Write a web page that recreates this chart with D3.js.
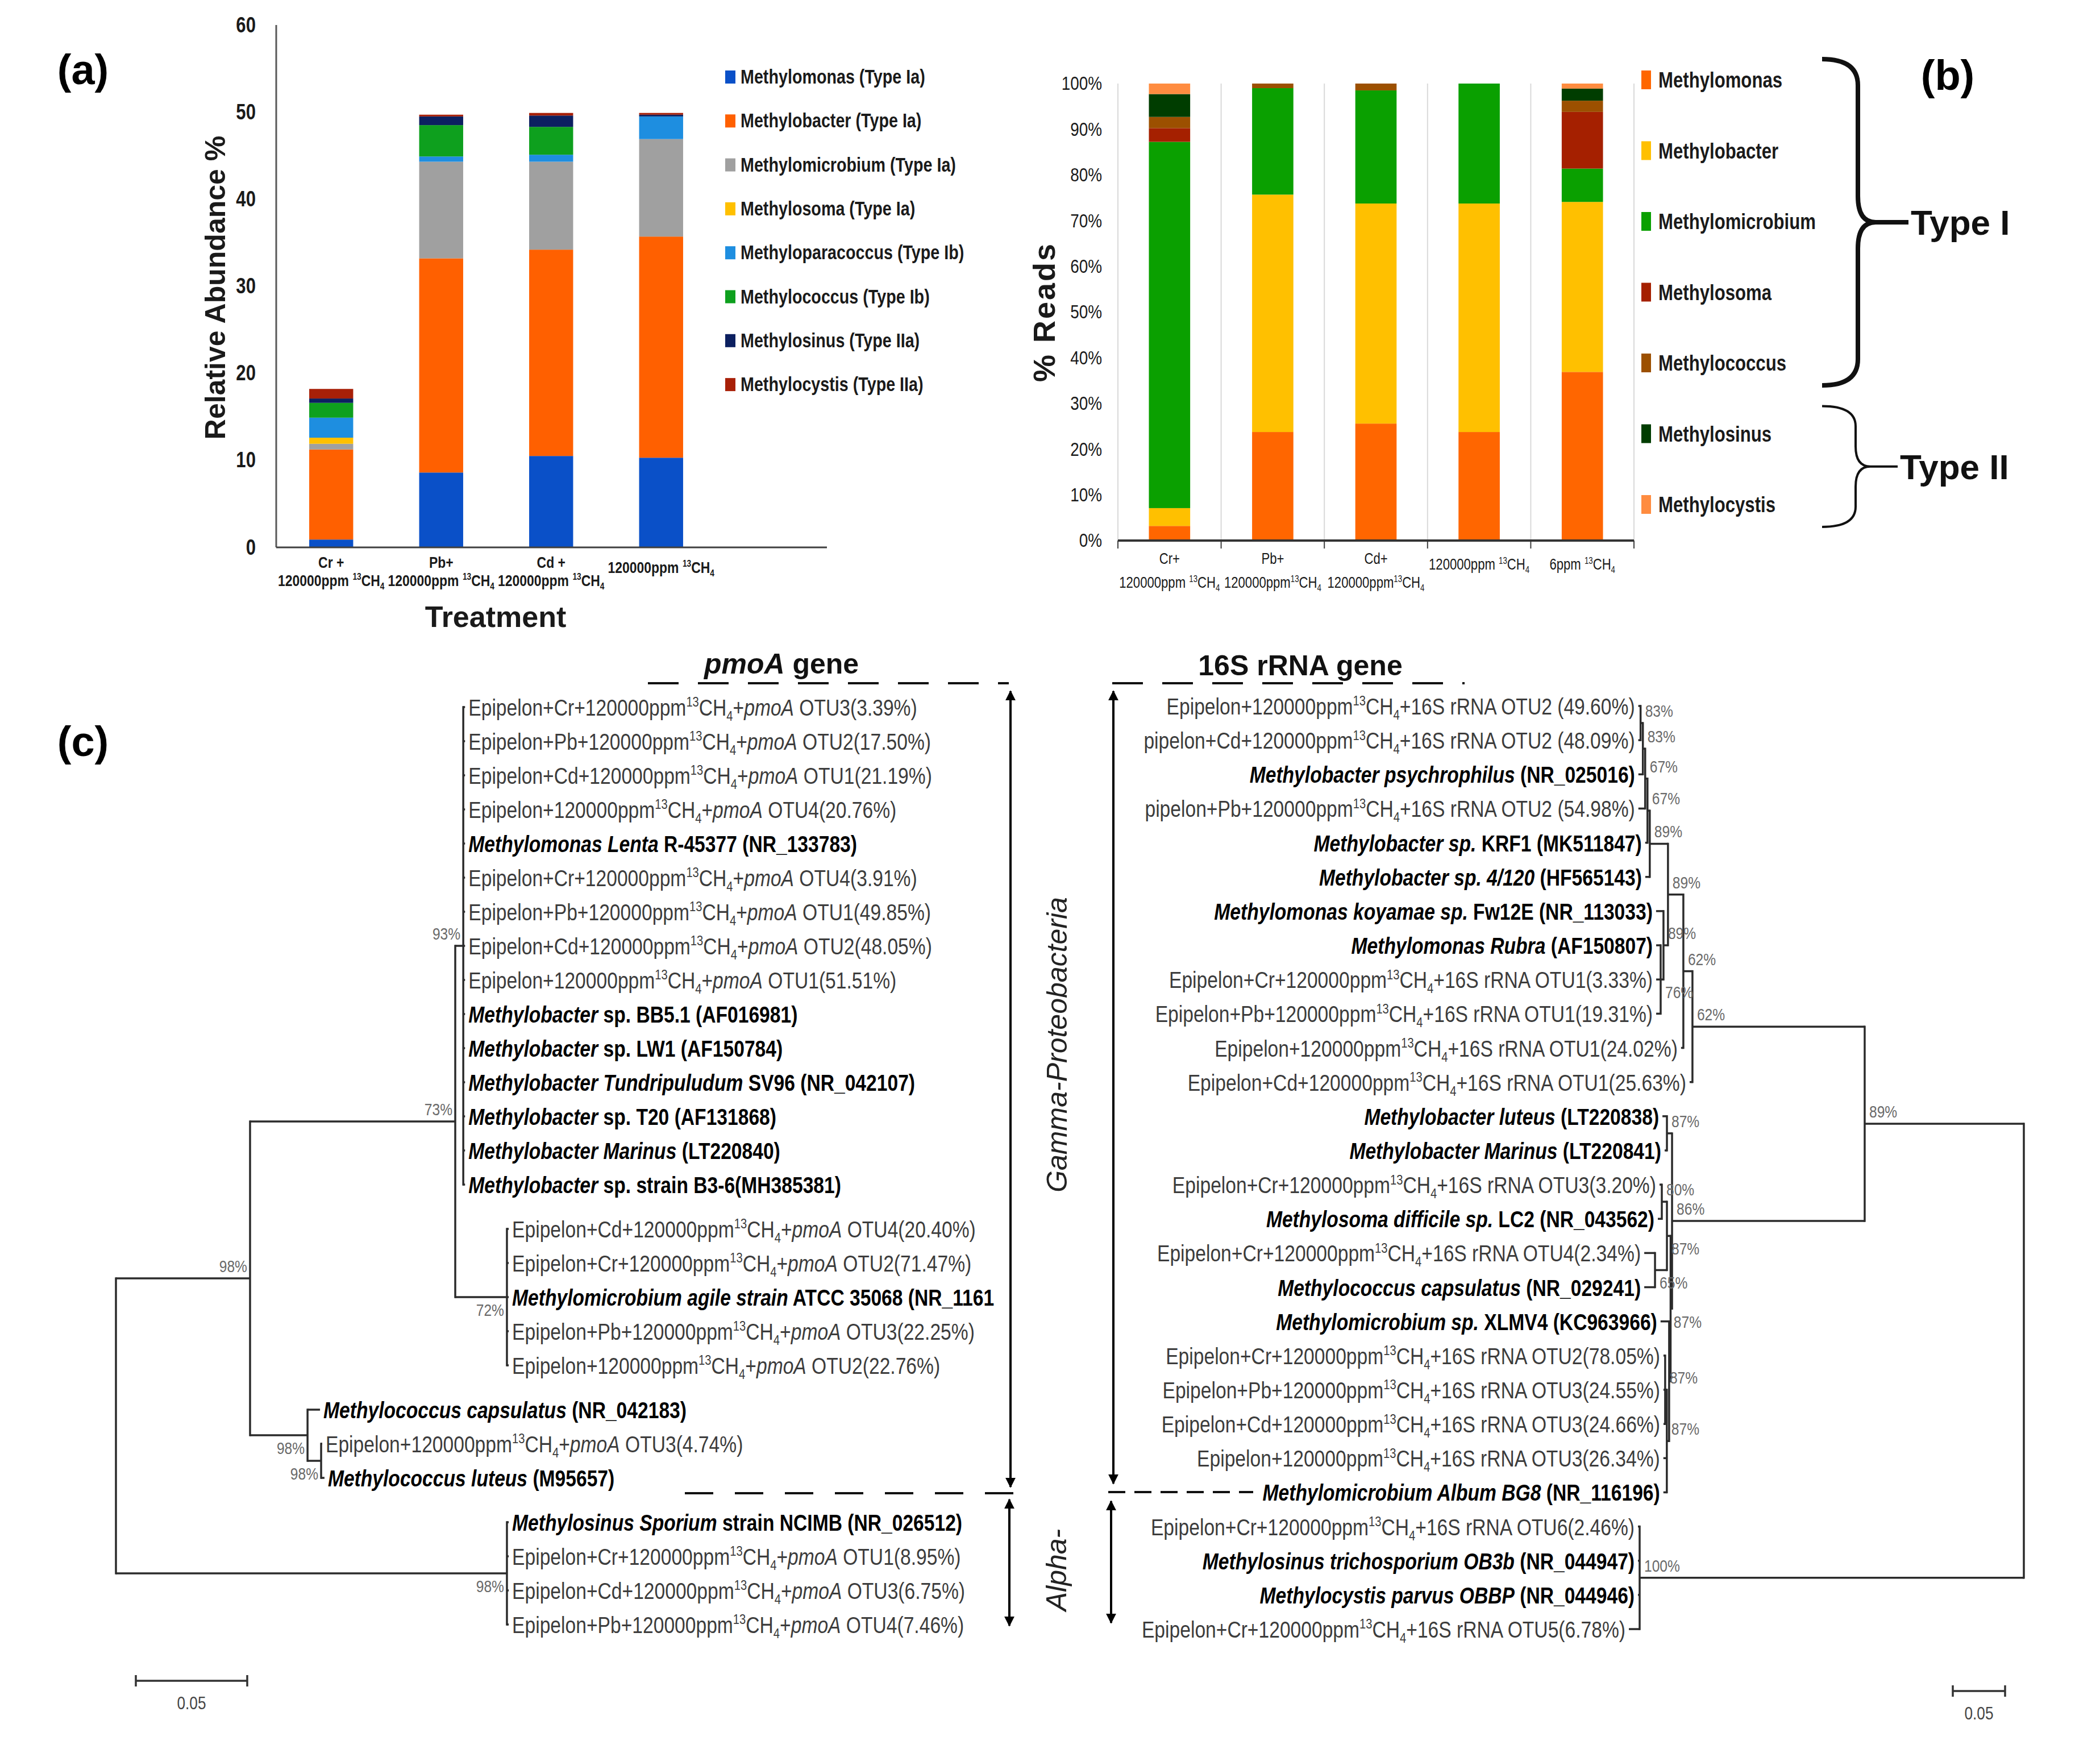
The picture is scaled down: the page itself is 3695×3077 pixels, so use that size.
<!DOCTYPE html>
<html>
<head>
<meta charset="utf-8">
<script src="https://cdn.jsdelivr.net/npm/d3@7"></script>
<style>
  body { margin: 0; background: #fff; }
  svg { display: block; }
</style>
</head>
<body>
<svg id="fig" width="3695" height="3077"></svg>
<script>
// ---------- data: panel (a) ----------
const generaA = ["Methylomonas (Type Ia)", "Methylobacter (Type Ia)", "Methylomicrobium (Type Ia)",
  "Methylosoma (Type Ia)", "Methyloparacoccus (Type Ib)", "Methylococcus (Type Ib)",
  "Methylosinus (Type IIa)", "Methylocystis (Type IIa)"];
const colorsA = ["#0a50c8", "#ff6000", "#a0a0a0", "#ffc000", "#1e8ee0", "#0ea01e", "#0c2060", "#a82008"];
const treatA = [["Cr +", "120000ppm ^13CH~4"], ["Pb+", "120000ppm ^13CH~4"], ["Cd +", "120000ppm ^13CH~4"], ["120000ppm ^13CH~4"]];
// one row per genus, one value per treatment (relative abundance %)
const abundA = [
  [0.9, 8.6, 10.5, 10.3],
  [10.35, 24.6, 23.7, 25.4],
  [0.65, 11.1, 10.1, 11.2],
  [0.7, 0, 0, 0],
  [2.3, 0.6, 0.8, 2.6],
  [1.7, 3.6, 3.2, 0],
  [0.5, 1.0, 1.3, 0.2],
  [1.1, 0.2, 0.3, 0.2]
];
const ticksA = [0, 10, 20, 30, 40, 50, 60];

// ---------- data: panel (b) ----------
const generaB = ["Methylomonas", "Methylobacter", "Methylomicrobium", "Methylosoma", "Methylococcus", "Methylosinus", "Methylocystis"];
const colorsB = ["#ff6600", "#ffc000", "#0aa000", "#a52000", "#9c5000", "#003d00", "#ff8c40"];
const treatB = [["Cr+", "120000ppm ^13CH~4"], ["Pb+", "120000ppm^13CH~4"], ["Cd+", "120000ppm^13CH~4"], ["120000ppm ^13CH~4"], ["6ppm ^13CH~4"]];
const readsB = [
  [3.2, 23.75, 25.6, 23.75, 36.9],
  [3.9, 51.95, 48.15, 50.0, 37.2],
  [80.15, 23.3, 24.75, 26.25, 7.3],
  [3.0, 0, 0, 0, 12.4],
  [2.45, 1.0, 1.5, 0, 2.45],
  [5.0, 0, 0, 0, 2.65],
  [2.3, 0, 0, 0, 1.1]
];
const ticksB = [0, 10, 20, 30, 40, 50, 60, 70, 80, 90, 100];
const typeGroups = [["Type I", 0, 4], ["Type II", 5, 6]];

// ---------- data: panel (c) pmoA tree ----------
// internal nodes: id, parent, branch length, bootstrap, label side
const pmoaNodes = [
  ["root", "", 0, ""],
  ["G98", "root", 0.0602, "98%"],
  ["N73", "G98", 0.0921, "73%"],
  ["N93", "N73", 0.0036, "93%"],
  ["N72", "N73", 0.0232, "72%", "below"],
  ["NMc", "G98", 0.0258, "98%", "below"],
  ["NMc2", "NMc", 0.0061, "98%", "below"],
  ["A98", "root", 0.1755, "98%", "below"]
];
// leaves in drawing order: parent, branch length, label (! = reference strain, *..* italic, ^ sup, ~ sub)
const pmoaLeaves = [
  ["N93", 0.0008, "Epipelon+Cr+120000ppm^13CH~4+*pmoA* OTU3(3.39%)"],
  ["N93", 0.0008, "Epipelon+Pb+120000ppm^13CH~4+*pmoA* OTU2(17.50%)"],
  ["N93", 0.0008, "Epipelon+Cd+120000ppm^13CH~4+*pmoA* OTU1(21.19%)"],
  ["N93", 0.0008, "Epipelon+120000ppm^13CH~4+*pmoA* OTU4(20.76%)"],
  ["N93", 0.0008, "!*Methylomonas Lenta* R-45377 (NR_133783)"],
  ["N93", 0.0008, "Epipelon+Cr+120000ppm^13CH~4+*pmoA* OTU4(3.91%)"],
  ["N93", 0.0008, "Epipelon+Pb+120000ppm^13CH~4+*pmoA* OTU1(49.85%)"],
  ["N93", 0.0008, "Epipelon+Cd+120000ppm^13CH~4+*pmoA* OTU2(48.05%)"],
  ["N93", 0.0008, "Epipelon+120000ppm^13CH~4+*pmoA* OTU1(51.51%)"],
  ["N93", 0.0008, "!*Methylobacter* sp. BB5.1 (AF016981)"],
  ["N93", 0.0008, "!*Methylobacter* sp. LW1 (AF150784)"],
  ["N93", 0.0008, "!*Methylobacter Tundripuludum* SV96 (NR_042107)"],
  ["N93", 0.0008, "!*Methylobacter* sp. T20 (AF131868)"],
  ["N93", 0.0008, "!*Methylobacter Marinus* (LT220840)"],
  ["N93", 0.0008, "!*Methylobacter* sp. strain B3-6(MH385381)"],
  ["N72", 0.0008, "Epipelon+Cd+120000ppm^13CH~4+*pmoA* OTU4(20.40%)"],
  ["N72", 0.0008, "Epipelon+Cr+120000ppm^13CH~4+*pmoA* OTU2(71.47%)"],
  ["N72", 0.0008, "!*Methylomicrobium agile strain* ATCC 35068 (NR_1161"],
  ["N72", 0.0008, "Epipelon+Pb+120000ppm^13CH~4+*pmoA* OTU3(22.25%)"],
  ["N72", 0.0008, "Epipelon+120000ppm^13CH~4+*pmoA* OTU2(22.76%)"],
  ["NMc", 0.0056, "!*Methylococcus capsulatus* (NR_042183)"],
  ["NMc2", 0.0005, "Epipelon+120000ppm^13CH~4+*pmoA* OTU3(4.74%)"],
  ["NMc2", 0.0015, "!*Methylococcus luteus* (M95657)"],
  ["A98", 0.0008, "!*Methylosinus Sporium* strain NCIMB (NR_026512)"],
  ["A98", 0.0008, "Epipelon+Cr+120000ppm^13CH~4+*pmoA* OTU1(8.95%)"],
  ["A98", 0.0008, "Epipelon+Cd+120000ppm^13CH~4+*pmoA* OTU3(6.75%)"],
  ["A98", 0.0008, "Epipelon+Pb+120000ppm^13CH~4+*pmoA* OTU4(7.46%)"]
];
const pmoaBreaks = [15, 20, 23];

// ---------- data: panel (c) 16S tree ----------
const rrnaNodes = [
  ["root", "", 0, ""],
  ["T89", "root", 0.1522, "89%"],
  ["N62a", "T89", 0.1647, "62%"],
  ["N89b", "N62a", 0.0087, "62%"],
  ["N89a", "N89b", 0.0147, "89%"],
  ["Nmb", "N89a", 0.0174, "89%"],
  ["Nmb2", "Nmb", 0.0022, "67%"],
  ["Nmb3", "Nmb2", 0.0022, "67%"],
  ["Nmb4", "Nmb3", 0.0022, "83%"],
  ["Nmb5", "Nmb4", 0.0022, "83%"],
  ["Nmm", "N89a", 0.0043, "89%"],
  ["N76", "Nmm", 0.0027, "76%", "below"],
  ["Nbot", "T89", 0.1842, "86%"],
  ["N87a", "Nbot", 0.0049, "87%"],
  ["Nrest", "Nbot", 0.0014, ""],
  ["N65", "Nrest", 0.0035, "87%", "below"],
  ["N80", "N65", 0.0049, "80%"],
  ["N87b", "N65", 0.0114, "65%", "below"],
  ["Nmic", "Nrest", 0.0014, "87%", "first"],
  ["N87c", "Nmic", 0.0022, "87%"],
  ["N87d", "N87c", 0.0016, "87%"],
  ["A100", "root", 0.3674, "100%"]
];
const rrnaLeaves = [
  ["Nmb5", 0.0022, "Epipelon+120000ppm^13CH~4+16S rRNA OTU2 (49.60%)"],
  ["Nmb5", 0.0022, "pipelon+Cd+120000ppm^13CH~4+16S rRNA OTU2 (48.09%)"],
  ["Nmb4", 0.0043, "!*Methylobacter psychrophilus* (NR_025016)"],
  ["Nmb3", 0.0065, "pipelon+Pb+120000ppm^13CH~4+16S rRNA OTU2 (54.98%)"],
  ["Nmb2", 0.0022, "!*Methylobacter sp.* KRF1 (MK511847)"],
  ["Nmb", 0.0043, "!*Methylobacter sp. 4/120* (HF565143)"],
  ["Nmm", 0.0071, "!*Methylomonas koyamae sp.* Fw12E (NR_113033)"],
  ["N76", 0.0043, "!*Methylomonas Rubra* (AF150807)"],
  ["N76", 0.0043, "Epipelon+Cr+120000ppm^13CH~4+16S rRNA OTU1(3.33%)"],
  ["N76", 0.0043, "Epipelon+Pb+120000ppm^13CH~4+16S rRNA OTU1(19.31%)"],
  ["N89b", 0.0022, "Epipelon+120000ppm^13CH~4+16S rRNA OTU1(24.02%)"],
  ["N62a", 0.0027, "Epipelon+Cd+120000ppm^13CH~4+16S rRNA OTU1(25.63%)"],
  ["N87a", 0.0043, "!*Methylobacter luteus* (LT220838)"],
  ["N87a", 0.0022, "!*Methylobacter Marinus* (LT220841)"],
  ["N80", 0.0022, "Epipelon+Cr+120000ppm^13CH~4+16S rRNA OTU3(3.20%)"],
  ["N80", 0.0038, "!*Methylosoma difficile sp.* LC2 (NR_043562)"],
  ["N87b", 0.0103, "Epipelon+Cr+120000ppm^13CH~4+16S rRNA OTU4(2.34%)"],
  ["N87b", 0.0103, "!*Methylococcus capsulatus* (NR_029241)"],
  ["Nmic", 0.0082, "!*Methylomicrobium sp.* XLMV4 (KC963966)"],
  ["N87d", 0.0016, "Epipelon+Cr+120000ppm^13CH~4+16S rRNA OTU2(78.05%)"],
  ["N87d", 0.0016, "Epipelon+Pb+120000ppm^13CH~4+16S rRNA OTU3(24.55%)"],
  ["N87d", 0.0016, "Epipelon+Cd+120000ppm^13CH~4+16S rRNA OTU3(24.66%)"],
  ["N87c", 0.0033, "Epipelon+120000ppm^13CH~4+16S rRNA OTU3(26.34%)"],
  ["N87c", 0.0033, "!*Methylomicrobium Album BG8* (NR_116196)"],
  ["A100", 0.0016, "Epipelon+Cr+120000ppm^13CH~4+16S rRNA OTU6(2.46%)"],
  ["A100", 0.0016, "!*Methylosinus trichosporium OB3b* (NR_044947)"],
  ["A100", 0.0016, "!*Methylocystis parvus OBBP* (NR_044946)"],
  ["A100", 0.0103, "Epipelon+Cr+120000ppm^13CH~4+16S rRNA OTU5(6.78%)"]
];
const rrnaBreaks = [];

// ---------- helpers ----------
const FW = "'Liberation Sans',Arial,sans-serif";
const NX = 0.82; // horizontal squeeze that gives the narrow look of the original lettering
const svg = d3.select("#fig");

// writes "^13" as superscript, "~4" as subscript and "*text*" in italics
function richText(sel, str, fs) {
  const parts = str.split(/(\^\d+|~\d+|\*[^*]+\*)/).filter(s => s.length);
  let shift = 0;
  parts.forEach(p => {
    let txt = p, size = fs, target = 0, italic = false;
    if (p[0] === "^") { txt = p.slice(1); size = fs * 0.6; target = -fs * 0.38; }
    else if (p[0] === "~") { txt = p.slice(1); size = fs * 0.6; target = fs * 0.22; }
    else if (p[0] === "*") { txt = p.slice(1, -1); italic = true; }
    sel.append("tspan")
      .attr("font-size", size)
      .attr("dy", target - shift)
      .attr("font-style", italic ? "italic" : null)
      .text(txt);
    shift = target;
  });
}

// narrow text placed at (x, y)
function ntext(parent, x, y, fs, anchor) {
  return parent.append("text")
    .attr("transform", `translate(${x},${y}) scale(${NX},1)`)
    .attr("text-anchor", anchor || "start")
    .attr("font-family", FW).attr("font-size", fs);
}

const defs = svg.append("defs");
defs.append("marker")
  .attr("id", "arr")
  .attr("viewBox", "0 0 10 10")
  .attr("refX", 9).attr("refY", 5)
  .attr("markerWidth", 4.5).attr("markerHeight", 4.5)
  .attr("orient", "auto-start-reverse")
  .append("path").attr("d", "M0,0L10,5L0,10z").attr("fill", "#000");
defs.append("clipPath").attr("id", "clipLeft")
  .append("rect").attr("x", 0).attr("y", 1100).attr("width", 1766).attr("height", 1900);

// panel letters
[["(a)", 146, 148], ["(b)", 3427, 158], ["(c)", 146, 1330]].forEach(([t, x, y]) => {
  svg.append("text").attr("x", x).attr("y", y).attr("text-anchor", "middle")
    .attr("font-family", FW).attr("font-weight", "bold").attr("font-size", 74).text(t);
});

// ---------- panel (a) ----------
const gA = svg.append("g");
const xA = d3.scaleBand().domain(d3.range(treatA.length)).range([486, 1260]).paddingInner(0.6).paddingOuter(0.3);
const yA = d3.scaleLinear().domain([0, 60]).range([963, 44]);
const rowsA = treatA.map((t, i) => Object.fromEntries(generaA.map((g, k) => [g, abundA[k][i]])));
const serA = d3.stack().keys(generaA)(rowsA);

gA.selectAll("g.ser").data(serA).join("g")
  .attr("class", "ser")
  .attr("fill", (d, i) => colorsA[i])
  .selectAll("rect").data(d => d).join("rect")
  .attr("x", (d, i) => xA(i))
  .attr("width", xA.bandwidth())
  .attr("y", d => yA(d[1]))
  .attr("height", d => yA(d[0]) - yA(d[1]));

gA.append("line").attr("x1", 486).attr("x2", 486).attr("y1", yA(60)).attr("y2", yA(0))
  .attr("stroke", "#595959").attr("stroke-width", 3);
gA.append("line").attr("x1", 486).attr("x2", 1455).attr("y1", yA(0)).attr("y2", yA(0))
  .attr("stroke", "#404040").attr("stroke-width", 3);

const axA = gA.append("g").attr("transform", "translate(486,0)")
  .call(d3.axisLeft(yA).tickValues(ticksA).tickSize(0));
axA.select(".domain").remove();
axA.selectAll("text").attr("x", 0).attr("transform", `translate(-36,0) scale(${NX},1)`)
  .attr("font-family", FW).attr("font-size", 38).attr("font-weight", "bold").attr("fill", "#1a1a1a");

treatA.forEach((lines, i) => {
  const cx = xA(i) + xA.bandwidth() / 2;
  lines.forEach((ln, j) => {
    const t = ntext(gA, cx, lines.length > 1 ? 999 + j * 32 : 1008, 28, "middle")
      .attr("font-weight", "bold").attr("fill", "#1a1a1a");
    richText(t, ln, 28);
  });
});

gA.append("text").attr("transform", "translate(396,506) rotate(-90)")
  .attr("text-anchor", "middle").attr("font-family", FW).attr("font-weight", "bold")
  .attr("font-size", 50).attr("fill", "#1a1a1a").text("Relative Abundance %");
gA.append("text").attr("x", 872).attr("y", 1103).attr("text-anchor", "middle")
  .attr("font-family", FW).attr("font-weight", "bold").attr("font-size", 52)
  .attr("fill", "#1a1a1a").text("Treatment");

const legA = gA.append("g");
generaA.forEach((g, i) => {
  const y = 135 + i * 77.3;
  legA.append("rect").attr("x", 1276).attr("y", y - 11).attr("width", 18).attr("height", 23).attr("fill", colorsA[i]);
  ntext(legA, 1303, y + 12, 35).attr("font-weight", "bold").attr("fill", "#1a1a1a").text(g);
});

// ---------- panel (b) ----------
const gB = svg.append("g");
const xB = d3.scaleBand().domain(d3.range(treatB.length)).range([1967, 2875]).paddingInner(0.6).paddingOuter(0.3);
const yB = d3.scaleLinear().domain([0, 100]).range([951, 147]);
const stepB = xB.step();
const bounds = d3.range(treatB.length + 1).map(i => xB.range()[0] + i * stepB);

gB.selectAll("line.grid").data(bounds).join("line").attr("class", "grid")
  .attr("x1", d => d).attr("x2", d => d).attr("y1", yB(100)).attr("y2", yB(0))
  .attr("stroke", "#d9d9d9").attr("stroke-width", 2);
gB.selectAll("line.tick").data(bounds).join("line").attr("class", "tick")
  .attr("x1", d => d).attr("x2", d => d).attr("y1", yB(0)).attr("y2", yB(0) + 14)
  .attr("stroke", "#404040").attr("stroke-width", 2);

const rowsB = treatB.map((t, i) => Object.fromEntries(generaB.map((g, k) => [g, readsB[k][i]])));
const serB = d3.stack().keys(generaB)(rowsB);
gB.selectAll("g.ser").data(serB).join("g")
  .attr("class", "ser")
  .attr("fill", (d, i) => colorsB[i])
  .selectAll("rect").data(d => d).join("rect")
  .attr("x", (d, i) => xB(i))
  .attr("width", xB.bandwidth())
  .attr("y", d => yB(d[1]))
  .attr("height", d => yB(d[0]) - yB(d[1]));

gB.append("line").attr("x1", 1967).attr("x2", 2875).attr("y1", yB(0)).attr("y2", yB(0))
  .attr("stroke", "#333").attr("stroke-width", 4);

const axB = gB.append("g").attr("transform", "translate(1967,0)")
  .call(d3.axisLeft(yB).tickValues(ticksB).tickFormat(d => d + "%").tickSize(0));
axB.select(".domain").remove();
axB.selectAll("text").attr("x", 0).attr("transform", `translate(-28,0) scale(${NX},1)`)
  .attr("font-family", FW).attr("font-size", 34).attr("fill", "#1a1a1a");

treatB.forEach((lines, i) => {
  const cx = xB(i) + xB.bandwidth() / 2;
  lines.forEach((ln, j) => {
    const t = ntext(gB, cx, lines.length > 1 ? 992 + j * 42 : 1002, 27, "middle").attr("fill", "#1a1a1a");
    richText(t, ln, 27);
  });
});

gB.append("text").attr("transform", "translate(1856,549) rotate(-90)")
  .attr("text-anchor", "middle").attr("font-family", FW).attr("font-weight", "bold")
  .attr("font-size", 54).attr("letter-spacing", 3).attr("fill", "#1a1a1a").text("% Reads");

const legBY = i => 140 + i * 124.5;
generaB.forEach((g, i) => {
  const y = legBY(i);
  gB.append("rect").attr("x", 2888).attr("y", y - 16).attr("width", 17).attr("height", 33).attr("fill", colorsB[i]);
  ntext(gB, 2918, y + 14, 38).attr("font-weight", "bold").attr("fill", "#1a1a1a").text(g);
});

function bracePath(x0, xv, xt, y0, y1) {
  const ym = (y0 + y1) / 2, r = Math.min(46, (y1 - y0) / 6), xm = xv + (xt - xv) * 0.35;
  return `M${x0},${y0} Q${xv},${y0} ${xv},${y0 + r} L${xv},${ym - r} Q${xv},${ym} ${xm},${ym} L${xt},${ym}` +
    ` M${xm},${ym} Q${xv},${ym} ${xv},${ym + r} L${xv},${y1 - r} Q${xv},${y1} ${x0},${y1}`;
}
typeGroups.forEach(([name, a, b], k) => {
  const y0 = legBY(a) - (k ? 48 : 36), y1 = legBY(b) + 40;
  const xt = k ? 3339 : 3358;
  gB.append("path").attr("d", bracePath(3206, k ? 3265 : 3269, xt, y0, y1))
    .attr("fill", "none").attr("stroke", "#111").attr("stroke-width", k ? 4 : 8);
  gB.append("text").attr("x", xt + 4).attr("y", (y0 + y1) / 2 + 22)
    .attr("font-family", FW).attr("font-weight", "bold").attr("font-size", 62)
    .attr("fill", "#111").text(name);
});

// ---------- panel (c) trees ----------
function drawTree(nodes, leaves, opt) {
  const rows = nodes.map(([id, parent, len, boot, pos]) => ({ id, parent, len, boot, pos }))
    .concat(leaves.map(([parent, len, name], i) => ({ id: name, parent, len, name, ord: i })));
  const root = d3.stratify().id(d => d.id).parentId(d => d.parent || null)(rows);
  root.eachAfter(n => { n.ord = n.children ? d3.min(n.children, c => c.ord) : n.data.ord; });
  root.sort((a, b) => a.ord - b.ord);
  root.eachBefore(n => { n.dist = (n.parent ? n.parent.dist : 0) + n.data.len; });
  root.leaves().forEach(l => {
    const i = l.data.ord;
    l.y = opt.y(i + opt.gap * opt.breaks.filter(b => b <= i).length);
  });
  root.eachAfter(n => {
    n.px = opt.x(n.dist);
    if (n.children) n.y = (n.children[0].y + n.children[n.children.length - 1].y) / 2;
  });

  const g = svg.append("g");
  const inner = root.descendants().filter(n => n.children);
  g.append("g").attr("stroke", "#2b2b2b").attr("stroke-width", 3.5).attr("stroke-linecap", "square")
    .selectAll("line.v").data(inner).join("line").attr("class", "v")
    .attr("x1", d => d.px).attr("x2", d => d.px)
    .attr("y1", d => d.children[0].y).attr("y2", d => d.children[d.children.length - 1].y);
  g.append("g").attr("stroke", "#2b2b2b").attr("stroke-width", 3.5)
    .selectAll("line.h").data(root.links()).join("line").attr("class", "h")
    .attr("x1", d => d.source.px).attr("x2", d => d.target.px)
    .attr("y1", d => d.target.y).attr("y2", d => d.target.y);

  const labs = g.append("g").attr("clip-path", opt.clip ? `url(#${opt.clip})` : null);
  root.leaves().forEach(l => {
    let s = l.data.name;
    const bold = s[0] === "!";
    if (bold) s = s.slice(1);
    const fs = 41;
    const t = ntext(labs, l.px + opt.dir * 6, l.y + 15, fs, opt.dir > 0 ? "start" : "end")
      .attr("font-weight", bold ? "bold" : null)
      .attr("fill", bold ? "#000" : "#3c3c3c");
    richText(t, s, fs);
  });

  const labY = d => d.data.pos === "below" ? d.y + 33
    : d.data.pos === "first" ? d.children[0].y + 11 : d.y - 11;
  g.append("g").selectAll("text").data(inner.filter(n => n.data.boot)).join("text")
    .attr("transform", d => `translate(${d.px + (opt.dir > 0 ? -5 : 8)},${labY(d)}) scale(${NX},1)`)
    .attr("text-anchor", opt.dir > 0 ? "end" : "start")
    .attr("font-family", FW).attr("font-size", 30).attr("fill", "#6a6a6a")
    .text(d => d.data.boot);

  // scale bar from the same x scale
  const x0 = opt.bar[0], len = Math.abs(opt.x(0.05) - opt.x(0));
  const bar = g.append("g").attr("stroke", "#333").attr("stroke-width", 3.5);
  bar.append("line").attr("x1", x0).attr("x2", x0 + len).attr("y1", opt.bar[1]).attr("y2", opt.bar[1]);
  [x0, x0 + len].forEach(x => bar.append("line").attr("x1", x).attr("x2", x)
    .attr("y1", opt.bar[1] - 10).attr("y2", opt.bar[1] + 10));
  ntext(g, x0 + len / 2, opt.bar[1] + 50, 32, "middle").attr("fill", "#444").text("0.05");
}

drawTree(pmoaNodes, pmoaLeaves, {
  x: d3.scaleLinear().domain([0, 0.05]).range([204, 400]),
  y: d3.scaleLinear().domain([0, 1]).range([1244, 1304]),
  breaks: pmoaBreaks, gap: 0.3, dir: 1, clip: "clipLeft", bar: [239, 2957]
});
drawTree(rrnaNodes, rrnaLeaves, {
  x: d3.scaleLinear().domain([0, 0.05]).range([3561, 3469]),
  y: d3.scaleLinear().domain([0, 1]).range([1242, 1302.15]),
  breaks: rrnaBreaks, gap: 0, dir: -1, clip: null, bar: [3436, 2975]
});

// titles, dashed separators and clade arrows
const titles = [["*pmoA* gene", 1375, 1185], ["16S rRNA gene", 2288, 1188]];
titles.forEach(([s, x, y]) => {
  const t = svg.append("text").attr("x", x).attr("y", y).attr("text-anchor", "middle")
    .attr("font-family", FW).attr("font-weight", "bold").attr("font-size", 50).attr("fill", "#111");
  richText(t, s, 50);
});
const dashes = [[1140, 1775, 1202, "54,34"], [1957, 2577, 1202, "54,34"], [1205, 1796, 2627, "50,38"], [1950, 2205, 2625, "30,16"]];
dashes.forEach(([x1, x2, y, da]) => {
  svg.append("line").attr("x1", x1).attr("x2", x2).attr("y1", y).attr("y2", y)
    .attr("stroke", "#111").attr("stroke-width", 4).attr("stroke-dasharray", da);
});
const arrows = [[1778, 1216, 2616], [1776, 2638, 2860], [1959, 1216, 2610], [1955, 2641, 2855]];
arrows.forEach(([x, y1, y2]) => {
  svg.append("line").attr("x1", x).attr("x2", x).attr("y1", y1).attr("y2", y2)
    .attr("stroke", "#000").attr("stroke-width", 4)
    .attr("marker-start", "url(#arr)").attr("marker-end", "url(#arr)");
});
[["Gamma-Proteobacteria", 1877, 1838], ["Alpha-", 1876, 2762]].forEach(([s, x, y]) => {
  svg.append("text").attr("transform", `translate(${x},${y}) rotate(-90)`)
    .attr("text-anchor", "middle").attr("font-family", FW).attr("font-style", "italic")
    .attr("font-size", 50).attr("fill", "#222").text(s);
});
</script>
</body>
</html>
